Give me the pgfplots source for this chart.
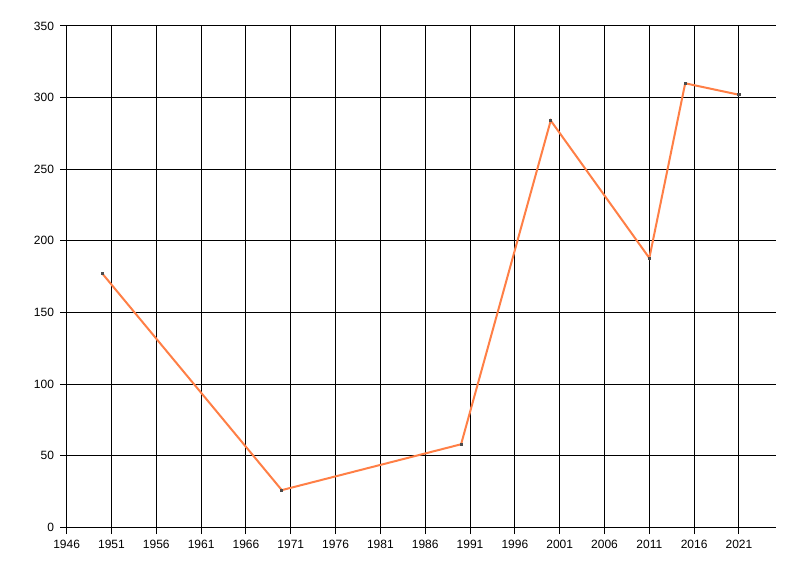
\documentclass[border=0pt]{standalone}
\usepackage{pgfplots}
\pgfplotsset{compat=1.18}
\usepackage{fontspec}
\setmainfont{Liberation Sans}
\definecolor{lineorange}{RGB}{255,127,70}
\begin{document}
\begin{tikzpicture}
\begin{axis}[
  scale only axis,
  width=531.75pt, height=376pt,
  xmin=1946, xmax=2025.1,
  ymin=0, ymax=350,
  xtick={1946,1951,...,2021},
  ytick={0,50,...,350},
  grid=major,
  major grid style={black, line width=0.75pt},
  axis lines*=left,
  axis line style={black, line width=0.75pt, -},
  tick style={black, line width=0.75pt},
  tick align=outside,
  major tick length=5pt,
  /pgf/number format/assume math mode=true,
  /pgf/number format/1000 sep={},
  tick label style={font=\fontsize{9}{10}\selectfont},
  xticklabel style={yshift=-1pt},
  yticklabel style={xshift=-1pt},
  clip=false,
]
\addplot[lineorange, line width=1.5pt, mark=square*, mark size=0.4pt,
  mark options={draw=black!70, fill=black!70}]
coordinates {
  (1950,177) (1970,26) (1990,58) (2000,284) (2011,188) (2015,310) (2021,302)
};
\end{axis}
\pgfresetboundingbox
\path ([shift={(-50pt,-36.5pt)}]current axis.south west) rectangle ([shift={(18.2pt,19.5pt)}]current axis.north east);
\end{tikzpicture}
\end{document}
